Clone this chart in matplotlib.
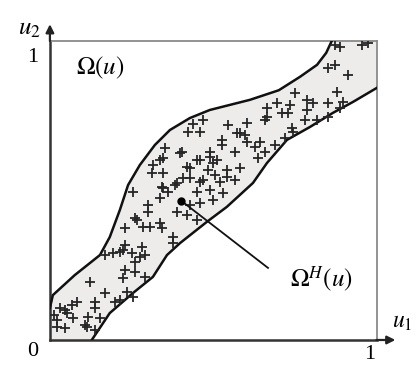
import matplotlib.pyplot as plt

# band boundaries in the unit square (u1, u2)
upper_u1 = [0.0, 0.009, 0.076, 0.153, 0.183, 0.214, 0.239, 0.275, 0.321, 0.367,
            0.428, 0.489, 0.612, 0.700, 0.765, 0.817, 0.845, 0.862]
upper_u2 = [0.107, 0.150, 0.217, 0.284, 0.344, 0.435, 0.518, 0.585, 0.652, 0.702,
            0.742, 0.769, 0.803, 0.835, 0.880, 0.920, 0.960, 1.0]
lower_u1 = [0.128, 0.183, 0.254, 0.315, 0.358, 0.398, 0.480, 0.541, 0.621, 0.664,
            0.725, 0.795, 0.865, 0.927, 1.0]
lower_u2 = [0.0, 0.090, 0.157, 0.211, 0.284, 0.324, 0.395, 0.445, 0.525, 0.592,
            0.669, 0.712, 0.759, 0.796, 0.843]

# sample points inside the band
pts_u1 = [0.229, 0.214, 0.251, 0.281, 0.291, 0.260, 0.229, 0.260, 0.223, 0.291,
          0.122, 0.168, 0.235, 0.199, 0.138, 0.083, 0.067, 0.031, 0.046, 0.138,
          0.116, 0.153, 0.070, 0.021, 0.012, 0.046, 0.107, 0.138, 0.254, 0.168,
          0.266, 0.284, 0.336, 0.223, 0.275, 0.214, 0.052, 0.021, 0.113, 0.376,
          0.376, 0.398, 0.346, 0.315, 0.312, 0.419, 0.459, 0.489, 0.428, 0.468,
          0.505, 0.254, 0.343, 0.361, 0.388, 0.336, 0.300, 0.300, 0.428, 0.459,
          0.498, 0.388, 0.419, 0.450, 0.260, 0.306, 0.343, 0.229, 0.193, 0.437,
          0.468, 0.422, 0.459, 0.544, 0.602, 0.657, 0.352, 0.404, 0.526, 0.526,
          0.572, 0.596, 0.566, 0.642, 0.636, 0.336, 0.511, 0.428, 0.483, 0.581,
          0.541, 0.407, 0.459, 0.520, 0.566, 0.346, 0.382, 0.450, 0.489, 0.529,
          0.872, 0.850, 0.911, 0.878, 0.749, 0.694, 0.734, 0.786, 0.804, 0.850,
          0.896, 0.664, 0.709, 0.728, 0.786, 0.887, 0.780, 0.817, 0.850, 0.740,
          0.743, 0.719, 0.602, 0.688, 0.657, 0.872, 0.887, 0.954, 0.972, 0.664,
          0.581, 0.627, 0.489, 0.541, 0.498, 0.450, 0.346]
pts_u2 = [0.318, 0.294, 0.291, 0.311, 0.284, 0.261, 0.234, 0.227, 0.207, 0.211,
          0.194, 0.157, 0.161, 0.127, 0.127, 0.127, 0.117, 0.107, 0.100, 0.107,
          0.077, 0.074, 0.074, 0.067, 0.084, 0.040, 0.050, 0.033, 0.144, 0.284,
          0.401, 0.378, 0.391, 0.301, 0.278, 0.134, 0.090, 0.043, 0.043, 0.344,
          0.324, 0.625, 0.609, 0.585, 0.559, 0.579, 0.602, 0.629, 0.542, 0.535,
          0.552, 0.495, 0.512, 0.495, 0.525, 0.475, 0.452, 0.428, 0.452, 0.458,
          0.468, 0.428, 0.418, 0.401, 0.408, 0.378, 0.375, 0.375, 0.291, 0.722,
          0.735, 0.696, 0.696, 0.719, 0.726, 0.736, 0.642, 0.629, 0.669, 0.652,
          0.692, 0.686, 0.629, 0.662, 0.609, 0.602, 0.602, 0.575, 0.569, 0.575,
          0.545, 0.542, 0.528, 0.528, 0.535, 0.508, 0.518, 0.495, 0.502, 0.492,
          0.920, 0.910, 0.886, 0.829, 0.826, 0.793, 0.786, 0.803, 0.793, 0.793,
          0.796, 0.776, 0.759, 0.759, 0.769, 0.776, 0.736, 0.736, 0.746, 0.709,
          0.696, 0.676, 0.662, 0.652, 0.629, 0.987, 0.980, 0.987, 0.993, 0.746,
          0.692, 0.645, 0.612, 0.569, 0.592, 0.602, 0.559]

dot_u = (0.402, 0.465)
label_u = (0.667, 0.241)

plt.rcParams['mathtext.fontset'] = 'stix'
plt.rcParams['font.family'] = 'Liberation Serif'

fig = plt.figure(figsize=(4.16, 3.67), dpi=100)
ax = fig.add_axes([0.120, 0.0736, 0.786, 0.815])
ax.set_xlim(0, 1)
ax.set_ylim(0, 1)
ax.set_xticks([])
ax.set_yticks([])

# shaded band: upper curve, top-right corner, lower curve back, origin corner
poly_x = upper_u1 + [1.0] + lower_u1[::-1] + [0.0]
poly_y = upper_u2 + [1.0] + lower_u2[::-1] + [0.0]
ax.fill(poly_x, poly_y, color='#eeebeb', zorder=1)
ax.plot(upper_u1, upper_u2, color='#111111', lw=1.8, zorder=3)
ax.plot(lower_u1, lower_u2, color='#111111', lw=1.8, zorder=3)

ax.plot(pts_u1, pts_u2, linestyle='none', marker='+', ms=6.5, mew=1.3,
        color='#262626', zorder=4)

# leader line to the set label
ax.plot([dot_u[0], label_u[0]], [dot_u[1], label_u[1]], color='#111111', lw=1.3, zorder=5)
ax.plot(*dot_u, marker='o', ms=5, color='black', zorder=6)

for side in ['top', 'right']:
    ax.spines[side].set_color('#8a8a8a')
    ax.spines[side].set_linewidth(1.3)
for side in ['left', 'bottom']:
    ax.spines[side].set_color('#333333')
    ax.spines[side].set_linewidth(1.8)

# axis arrows
ax.annotate('', xy=(0, 1.065), xytext=(0, 0.99), annotation_clip=False,
            arrowprops=dict(arrowstyle='-|>', color='#222222', lw=1.6, mutation_scale=12))
ax.annotate('', xy=(1.065, 0), xytext=(0.99, 0), annotation_clip=False,
            arrowprops=dict(arrowstyle='-|>', color='#222222', lw=1.6, mutation_scale=12))

ax.text(-0.062, 1.04, r'$u_2$', fontsize=18, ha='center', va='center')
ax.text(1.078, 0.06, r'$u_1$', fontsize=17, ha='center', va='center')
ax.text(-0.052, 0.945, '1', fontsize=16, ha='center', va='center')
ax.text(-0.052, -0.04, '0', fontsize=16, ha='center', va='center')
ax.text(0.979, -0.05, '1', fontsize=16, ha='center', va='center')
ax.text(0.153, 0.91, r'$\Omega(u)$', fontsize=18, ha='center', va='center')
ax.text(0.83, 0.205, r'$\Omega^H(u)$', fontsize=18, ha='center', va='center')

fig.savefig('out.png', dpi=100)
